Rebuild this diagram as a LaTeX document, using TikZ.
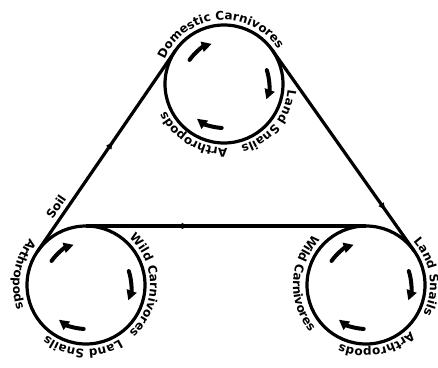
\documentclass[tikz,border=0pt]{standalone}
\usepackage{fontspec}
\newfontfamily\djv{DejaVu Sans}
\usetikzlibrary{decorations.text,decorations.markings,arrows.meta,calc}
\newcommand{\lblf}{\djv\bfseries\fontsize{12}{14}\selectfont}
\newcommand{\arclabel}[5]{%
  \path[decorate,decoration={text along path,text align=center,text={|\lblf|#5}}]
    ([shift={(#3:#2)}]#1.center) arc[start angle=#3,end angle=#4,radius=#2];}
\begin{document}
\begin{tikzpicture}[x=1pt,y=1pt,
  wheel/.style={circle,draw,line width=3.2pt,minimum size=118pt,inner sep=0pt,outer sep=0pt},
  belt/.style={line width=3.2pt},
  turn/.style={line width=4pt,line cap=round,-{Triangle[length=10pt,width=10pt]}},
  midarrow/.style={postaction={decorate},decoration={markings,mark=at position #1 with {\arrow{Latex[length=8pt,width=7pt]}}}}
]
\useasboundingbox (0,0) rectangle (438,367);
\fill[white] (0,0) rectangle (438,367);

\node[wheel] (T) at (224,283) {};
\node[wheel] (L) at (86,82) {};
\node[wheel] (R) at (366,82) {};

\coordinate (lt1) at ($(L.center)!59pt!90:(T.center)$);
\coordinate (lt2) at ($(T.center)!59pt!-90:(L.center)$);
\coordinate (rt1) at ($(T.center)!59pt!90:(R.center)$);
\coordinate (rt2) at ($(R.center)!59pt!-90:(T.center)$);

\draw[belt,midarrow=0.55] (lt1) -- (lt2);
\draw[belt,midarrow=0.37] (L.north) -- (R.north);
\draw[belt,midarrow=0.8] (rt1) -- (rt2);

\foreach \c in {T,L,R} {
  \draw[turn] ([shift={(145:42pt)}]\c.center) arc[start angle=145,end angle=107,radius=42pt];
  \draw[turn] ([shift={(18:45pt)}]\c.center) arc[start angle=18,end angle=-20,radius=45pt];
  \draw[turn] ([shift={(-93:44pt)}]\c.center) arc[start angle=-93,end angle=-128,radius=44pt];
}

% top circle
\arclabel{T}{64pt}{175}{15}{Domestic Carnivores}
\arclabel{T}{64pt}{20}{-100}{Land Snails}
\arclabel{T}{64pt}{-61}{-181}{Arthropods}
% left circle
\arclabel{L}{73pt}{110}{230}{Arthropods}
\arclabel{L}{64pt}{-33}{-153}{Land Snails}
\arclabel{L}{64pt}{70}{-70}{Wild Carnivores}
% right circle
\arclabel{R}{73pt}{108}{248}{Wild Carnivores}
\arclabel{R}{64pt}{68}{-52}{Land Snails}
\arclabel{R}{64pt}{-20}{-140}{Arthropods}

\node[font=\lblf,rotate=55.5,inner sep=0pt] (soil) at (56,160) {Soil};
\end{tikzpicture}
\end{document}
